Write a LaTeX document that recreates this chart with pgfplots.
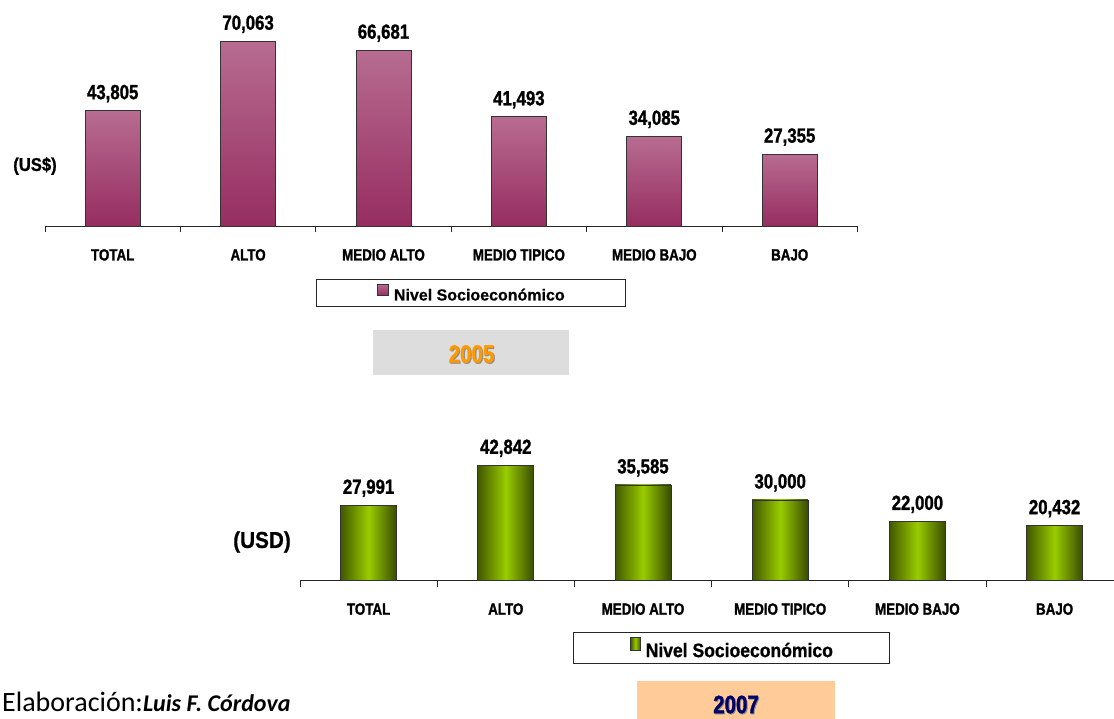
\documentclass[border=0pt]{standalone}
\usepackage{fontspec}
\setmainfont{Liberation Sans}[BoldFeatures={FakeBold=0.6}]
\newfontfamily\narrow{Liberation Sans}[FakeStretch=0.82, BoldFeatures={FakeBold=1.2}]
\newfontfamily\semi{Liberation Sans}[FakeStretch=0.9, BoldFeatures={FakeBold=0.8}]
\newfontfamily\calib{Carlito}
\usepackage{pgfplots}
\pgfplotsset{compat=1.18}

\definecolor{plumtop}{RGB}{183,108,144}
\definecolor{plumbot}{RGB}{150,45,97}
\definecolor{olivedark}{RGB}{66,88,0}
\definecolor{olivelight}{RGB}{153,204,0}
\definecolor{yeargray}{RGB}{221,221,221}
\definecolor{yearpeach}{RGB}{255,204,153}
\definecolor{yearorange}{RGB}{255,153,0}
\definecolor{yearnavy}{RGB}{0,0,102}

\newcommand{\valfont}{\narrow\bfseries\fontsize{20.5}{20}\selectfont}
\newcommand{\catfont}{\narrow\bfseries\fontsize{16.3}{16}\selectfont}

% shared look of both panels
\pgfplotsset{
  nse/.style={
    scale only axis,
    axis x line=bottom, axis y line=none,
    x axis line style={-, draw=black!85, line width=1.2pt},
    xmin=-0.5, xmax=5.5, ymin=0, enlargelimits=false, clip=false,
    xtick={0,...,5},
    xticklabels={TOTAL,ALTO,MEDIO ALTO,MEDIO TIPICO,MEDIO BAJO,BAJO},
    major tick length=0pt,
    minor xtick={-0.5,0.5,...,5.5}, minor tick length=6pt,
    xtick align=outside,
    minor tick style={draw=black!85, line width=1pt},
    xticklabel style={font=\catfont, anchor=base, yshift=-34pt, inner sep=0pt},
    nodes near coords={\pgfmathprintnumber[fixed,precision=0,1000 sep={,},assume math mode=true]{\pgfplotspointmeta}},
    nodes near coords style={font=\valfont, text=black, anchor=south, inner sep=0pt, yshift=8pt},
    legend cell align=left,
  },
  % one plot per bar, so that every bar gets its own gradient
  plumbar/.style={ybar, bar width=55pt, draw=black!80, line width=0.8pt,
    top color=plumtop, bottom color=plumbot},
  olivebar/.style={ybar, bar width=56pt, draw=black!80, line width=0.8pt,
    left color=olivedark, right color=olivedark!85!black, middle color=olivelight},
}

\begin{document}
\begin{tikzpicture}
\useasboundingbox (0pt,0pt) rectangle (1114pt,719pt);
\clip (0pt,0pt) rectangle (1114pt,719pt);
\fill[white] (0pt,0pt) rectangle (1114pt,719pt);

% year boxes
\fill[yeargray] (373pt,344pt) rectangle (569pt,389pt);
\node[font=\narrow\bfseries\fontsize{25}{25}\selectfont, text=black!45] at (472.5pt,364pt) {2005};
\node[font=\narrow\bfseries\fontsize{25}{25}\selectfont, text=yearorange] at (471.5pt,365pt) {2005};
\fill[yearpeach] (637pt,-2pt) rectangle (835pt,38pt);
\node[font=\narrow\bfseries\fontsize{25}{25}\selectfont, text=black!45] at (737pt,13.5pt) {2007};
\node[font=\narrow\bfseries\fontsize{25}{25}\selectfont, text=yearnavy] at (736pt,14.5pt) {2007};

% unit labels
\node[font=\semi\bfseries\fontsize{18.5}{18.5}\selectfont] at (35pt,553pt) {(US\$)};
\node[font=\semi\bfseries\fontsize{23}{23}\selectfont] at (262pt,177pt) {(USD)};

% credit
\node[anchor=base west, inner sep=0pt] at (2pt,7.3pt)
  {{\calib\fontsize{28}{28}\selectfont Elaboración:}{\calib\bfseries\itshape\fontsize{24}{24}\selectfont Luis F. Córdova}};

% 2005
\begin{axis}[nse, at={(45pt,492.5pt)}, anchor=south west,
  width=812.4pt, height=211.4pt, ymax=80000,
  legend style={at={(0.5244,-0.3146)}, anchor=center, draw=black!85, line width=1pt,
    inner xsep=61pt, inner ysep=5pt, nodes={inner sep=0pt}, column sep=5pt,
    font=\bfseries\fontsize{16}{16}\selectfont}]
\addplot[plumbar,
  legend image code/.code={\draw[draw=black!80, line width=0.6pt, top color=plumtop, bottom color=plumbot] (0pt,0pt) rectangle (11pt,11pt);}]
  coordinates {(0,43805)};
\addplot[plumbar, forget plot] coordinates {(1,70063)};
\addplot[plumbar, forget plot] coordinates {(2,66681)};
\addplot[plumbar, forget plot] coordinates {(3,41493)};
\addplot[plumbar, forget plot] coordinates {(4,34085)};
\addplot[plumbar, forget plot] coordinates {(5,27355)};
\legend{Nivel Socioeconómico}
\end{axis}

% 2007
\begin{axis}[nse, at={(300pt,138.3pt)}, anchor=south west,
  width=823.2pt, height=134.5pt, ymax=50000,
  legend style={at={(0.5242,-0.5004)}, anchor=center, draw=black!85, line width=1pt,
    inner xsep=57pt, inner ysep=5pt, nodes={inner sep=0pt}, column sep=5pt,
    font=\semi\bfseries\fontsize{19.5}{19.5}\selectfont}]
\addplot[olivebar,
  legend image code/.code={\draw[draw=black!80, line width=0.6pt, left color=olivedark, right color=olivedark, middle color=olivelight] (0pt,0pt) rectangle (10pt,13pt);}]
  coordinates {(0,27991)};
\addplot[olivebar, forget plot] coordinates {(1,42842)};
\addplot[olivebar, forget plot] coordinates {(2,35585)};
\addplot[olivebar, forget plot] coordinates {(3,30000)};
\addplot[olivebar, forget plot] coordinates {(4,22000)};
\addplot[olivebar, forget plot] coordinates {(5,20432)};
\legend{Nivel Socioeconómico}
\end{axis}
\end{tikzpicture}
\end{document}
